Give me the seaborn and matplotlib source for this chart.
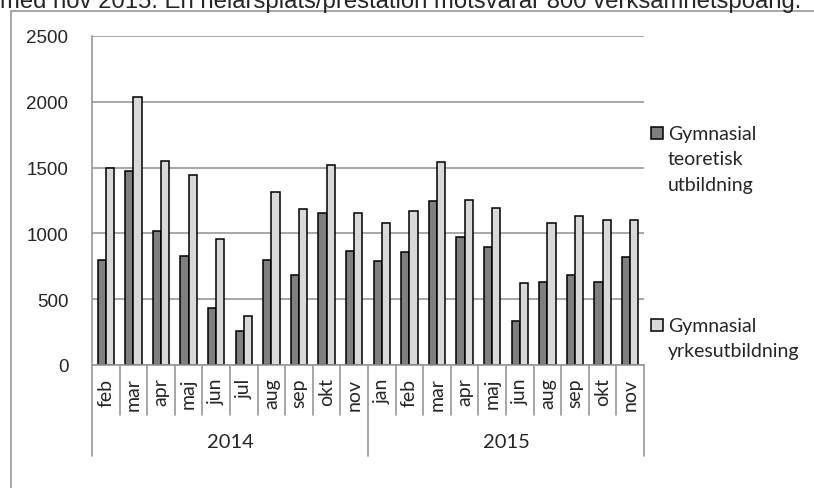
import numpy as np
import pandas as pd
import matplotlib.pyplot as plt
import matplotlib.transforms as mtransforms
from matplotlib.lines import Line2D
from matplotlib.patches import Rectangle
import seaborn as sns

# Data
years = ["2014"] * 10 + ["2015"] * 10
months = ["feb", "mar", "apr", "maj", "jun", "jul", "aug", "sep", "okt", "nov",
          "jan", "feb", "mar", "apr", "maj", "jun", "aug", "sep", "okt", "nov"]
teoretisk = [795, 1472, 1021, 826, 436, 261, 795, 687, 1153, 867,
             791, 862, 1244, 970, 900, 334, 633, 687, 633, 821]
yrkes = [1500, 2038, 1553, 1447, 958, 370, 1315, 1184, 1523, 1158,
         1082, 1168, 1544, 1255, 1191, 626, 1077, 1130, 1105, 1105]
series_names = ["Gymnasial\nteoretisk\nutbildning", "Gymnasial\nyrkesutbildning"]
colors = ["#7f7f7f", "#d9d9d9"]
title = "med nov 2015. En helårsplats/prestation motsvarar 800 verksamhetspoäng."

keys = [f"{y} {m}" for y, m in zip(years, months)]
df = pd.DataFrame({
    "period": keys * 2,
    "value": teoretisk + yrkes,
    "serie": [series_names[0]] * len(keys) + [series_names[1]] * len(keys),
})

sns.set_style("white")
plt.rcParams["font.family"] = ["Liberation Sans", "DejaVu Sans"]
W, H = 814, 489
fig = plt.figure(figsize=(W / 100, H / 100), dpi=100)
ax = fig.add_axes([92 / W, 1 - 366 / H, (644 - 92) / W, (366 - 37) / H])

sns.barplot(data=df, x="period", y="value", hue="serie", order=keys,
            hue_order=series_names, palette=colors, width=0.6,
            edgecolor="black", linewidth=1.1, saturation=1, ax=ax, legend=False)

grid_c = "#989898"
ax.set_ylim(0, 2500)
ax.set_yticks(range(0, 2501, 500))
ax.yaxis.grid(True, color=grid_c, linewidth=1.2)
ax.set_axisbelow(True)
ax.set_xlim(-0.5, len(keys) - 0.5)
ax.set_xlabel("")
ax.set_ylabel("")
for s in ["top", "right"]:
    ax.spines[s].set_visible(False)
ax.spines["left"].set_color(grid_c)
ax.spines["bottom"].set_color(grid_c)
ax.spines["left"].set_linewidth(1.2)
ax.spines["bottom"].set_linewidth(1.2)
ax.tick_params(axis="y", length=5, color=grid_c, width=1.2, labelsize=13.5,
               pad=12)

# month labels
ax.set_xticks(range(len(keys)))
ax.set_xticklabels(months, rotation=90, va="top", ha="center",
                   fontsize=14, family="Lato")
ax.tick_params(axis="x", length=0, pad=9)

# category separators (two-level axis)
trans = mtransforms.blended_transform_factory(ax.transData, ax.transAxes)
ax_h = 366 - 37
for i in range(len(keys) + 1):
    x = i - 0.5
    is_year = i == 0 or i == len(keys) or years[i] != years[i - 1]
    low = -91 / ax_h if is_year else -50 / ax_h
    ax.add_line(Line2D([x, x], [0, low], transform=trans, color=grid_c,
                       linewidth=1.2, clip_on=False))

# year labels
for yr in sorted(set(years)):
    idx = [i for i, y in enumerate(years) if y == yr]
    ax.text((idx[0] + idx[-1]) / 2, -(443 - 366) / ax_h, yr, transform=trans,
            ha="center", va="center", fontsize=14.5, family="Lato")

# legend (manual, entries far apart as in the original)
for name, col, ytop in zip(series_names, colors, [128, 320]):
    fig.add_artist(Rectangle((651 / W, 1 - (ytop + 12) / H), 12 / W, 12 / H,
                             facecolor=col, edgecolor="black", linewidth=1.1,
                             transform=fig.transFigure))
    fig.text(668 / W, 1 - (ytop - 2) / H, name, ha="left", va="top",
             fontsize=14, family="Lato", linespacing=1.6)

# chart frame and title (cut off at the top, as in the source)
fig.add_artist(Line2D([11 / W, 11 / W], [0, 1 - 12 / H], color="#a0a0a0",
                      linewidth=1.3, transform=fig.transFigure))
fig.add_artist(Line2D([11 / W, 1], [1 - 12 / H, 1 - 12 / H], color="#a0a0a0",
                      linewidth=1.3, transform=fig.transFigure))
fig.text(0, 1 - 8 / H, title, ha="left", va="baseline", fontsize=17.2)

fig.savefig("out.png", dpi=100)
